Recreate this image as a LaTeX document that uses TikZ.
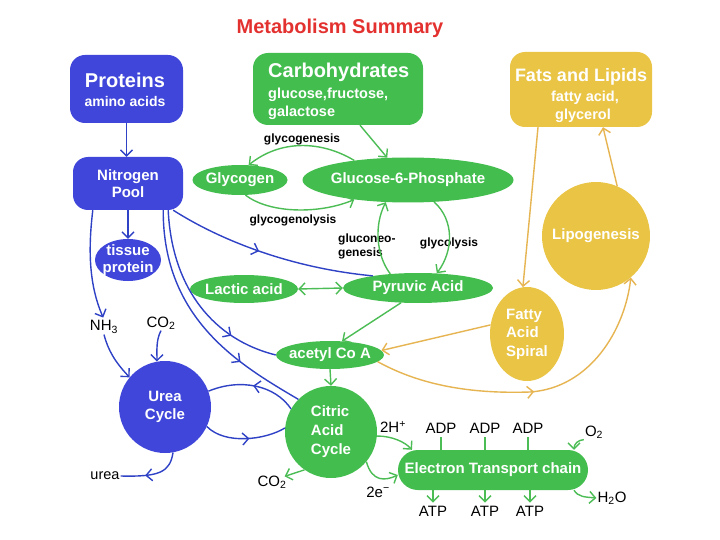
\documentclass[tikz,border=0pt]{standalone}
\usepackage{fontspec}
\setmainfont{Liberation Sans}
\usetikzlibrary{arrows.meta,shapes.geometric,decorations.markings}
\definecolor{nblue}{HTML}{3F46D9}
\definecolor{ngreen}{HTML}{43BE4E}
\definecolor{nyellow}{HTML}{E9C445}
\definecolor{lblue}{HTML}{2F42C6}
\definecolor{lgreen}{HTML}{4CBD55}
\definecolor{lyellow}{HTML}{E6B552}
\definecolor{ttlred}{HTML}{E3312F}
\newcommand\fsz[2]{\fontsize{#1}{#2}\selectfont}
\begin{document}
\begin{tikzpicture}[x=1pt,y=-1pt,
  >={Straight Barb[length=6pt,width=12pt]},
  every node/.style={inner sep=0pt},
  wt/.style={text=white,font=\bfseries\fsz{15}{18}},
  blk/.style={text=black,font=\fsz{15}{17},inner sep=1pt},
  sml/.style={text=black,font=\bfseries\fsz{12}{14},inner sep=1pt},
  ell/.style={ellipse,inner xsep=-6pt,inner ysep=0pt},
  rbox/.style={rectangle,rounded corners=15pt},
  bl/.style={draw=lblue,line width=1.4pt},
  gl/.style={draw=lgreen,line width=1.4pt},
  yl/.style={draw=lyellow,line width=1.4pt},
  midarr/.style={postaction={decorate},decoration={markings,mark=at position #1 with {\arrow{>}}}}
]
\fill[white] (0,0) rectangle (720,540);
\useasboundingbox (0,0) rectangle (720,540);

% title
\node[font=\bfseries\fsz{20}{24},text=ttlred] (title) at (340,28) {Metabolism Summary};

% header boxes
\node[rbox,fill=nblue,minimum width=113pt,minimum height=68pt] (proteins) at (126.5,89) {};
\node[wt,font=\bfseries\fsz{20}{24},anchor=base] (proteinsT) at (125,88) {Proteins};
\node[wt,font=\bfseries\fsz{14}{16},anchor=base] (proteinsS) at (125,107) {amino acids};

\node[rbox,fill=ngreen,minimum width=170pt,minimum height=72pt] (carbs) at (338,89) {};
\node[wt,font=\bfseries\fsz{20}{24},anchor=base west] (carbsT) at (268,78) {Carbohydrates};
\node[wt,font=\bfseries\fsz{14.5}{16},anchor=base west] (carbsS1) at (268,99) {glucose,fructose,};
\node[wt,font=\bfseries\fsz{14.5}{16},anchor=base west] (carbsS2) at (268,117) {galactose};

\node[rbox,fill=nyellow,minimum width=142pt,minimum height=75pt] (fats) at (581,89.5) {};
\node[wt,font=\bfseries\fsz{18}{22},anchor=base] (fatsT) at (581,82) {Fats and Lipids};
\node[wt,font=\bfseries\fsz{14.5}{16},anchor=base] (fatsS1) at (585,102) {fatty acid,};
\node[wt,font=\bfseries\fsz{14.5}{16},anchor=base] (fatsS2) at (583,120) {glycerol};

% blue nodes
\node[rbox,fill=nblue,wt,align=center,font=\bfseries\fsz{15}{17},minimum width=110pt,minimum height=53pt] (nitro) at (128,183.5) {Nitrogen\\Pool};
\node[ellipse,inner xsep=-6pt,inner ysep=-3pt,fill=nblue,wt,align=center,font=\bfseries\fsz{15}{17},minimum width=66pt,minimum height=42pt] (tissue) at (128,260) {tissue\\protein};
\node[circle,fill=nblue,wt,align=center,font=\bfseries\fsz{15}{18},minimum size=92pt] (urea) at (165,407) {Urea\\Cycle};

% green nodes
\node[ell,fill=ngreen,wt,minimum width=95pt,minimum height=30pt] (glycogen) at (240,180) {Glycogen};
\node[ell,fill=ngreen,wt,minimum width=211pt,minimum height=45pt] (g6p) at (408,180) {Glucose-6-Phosphate};
\node[ell,fill=ngreen,wt,minimum width=108pt,minimum height=28pt] (lactic) at (244,289) {Lactic acid};
\node[ell,fill=ngreen,wt,minimum width=150pt,minimum height=30pt] (pyr) at (418,288) {Pyruvic Acid};
\node[ell,fill=ngreen,wt,minimum width=108pt,minimum height=28pt] (acetyl) at (330,355) {acetyl Co A};
\node[circle,fill=ngreen,wt,align=left,font=\bfseries\fsz{15}{19},minimum size=92pt] (citric) at (331,432) {Citric\\Acid\\Cycle};
\node[rectangle,rounded corners=20pt,fill=ngreen,wt,minimum width=190pt,minimum height=40pt] (etc) at (493,470) {Electron Transport chain};

% yellow nodes
\node[ell,fill=nyellow,wt,align=left,font=\bfseries\fsz{15}{18.5},minimum width=74pt,minimum height=94pt] (spiral) at (527,334) {Fatty\\Acid\\Spiral};
\node[circle,fill=nyellow,wt,minimum size=108pt] (lipo) at (596,236) {Lipogenesis};

% labels
\node[sml] (lgenesis) at (302,139) {glycogenesis};
\node[sml] (lgenolysis) at (293,220) {glycogenolysis};
\node[sml,align=left,anchor=west] (lgluco) at (337,246) {gluconeo-\\genesis};
\node[sml] (lglycolysis) at (449,243) {glycolysis};
\node[blk] (nh3) at (104,327) {NH\textsubscript{3}};
\node[blk] (co2a) at (161,323) {CO\textsubscript{2}};
\node[blk,font=\fsz{14.5}{17}] (urealbl) at (105,476) {urea};
\node[blk] (co2b) at (272,482) {CO\textsubscript{2}};
\node[blk] (hplus) at (393,427) {2H\textsuperscript{+}};
\node[blk] (eminus) at (378,492) {2e\textsuperscript{−}};
\node[blk] (adp1) at (441,428) {ADP};
\node[blk] (adp2) at (485,428) {ADP};
\node[blk] (adp3) at (528,428) {ADP};
\node[blk] (atp1) at (433,511) {ATP};
\node[blk] (atp2) at (485,511) {ATP};
\node[blk] (atp3) at (530,511) {ATP};
\node[blk] (o2) at (594,432) {O\textsubscript{2}};
\node[blk] (h2o) at (612,498) {H\textsubscript{2}O};

% blue connectors
\draw[bl,->] (proteins.south) -- (proteins.south |- nitro.north);
\draw[bl,->] (nitro.south) -- (tissue.north);
\draw[bl,->,shorten >=2pt] ([xshift=20pt]nitro.south west) .. controls (88,250) and (89,285) .. (nh3.north);
\draw[bl,->] (nh3.south) .. controls (108,350) and (115,362) .. (urea.140);
\draw[bl,->] (co2a.south) .. controls (156,340) and (157,350) .. (urea.100);
\draw[bl,midarr=0.62] (urea.-80) .. controls (170,472) and (160,477) .. (urealbl.east);
\draw[bl,midarr=0.45] ([xshift=-10pt]nitro.south east) .. controls (220,240) and (290,268) .. (pyr.165);
\draw[bl,midarr=0.75] ([xshift=-15pt]nitro.south east) .. controls (172,290) and (215,340) .. (acetyl.west);
\draw[bl,midarr=0.72] ([xshift=-20pt]nitro.south east) .. controls (163,320) and (240,365) .. (citric.135);
\draw[bl,midarr=0.5] (citric.150) .. controls (275,385) and (240,378) .. (urea.20);
\draw[bl,midarr=0.55] (urea.-25) .. controls (225,445) and (265,440) .. (citric.175);

% green connectors
\draw[gl,->] ([xshift=22pt]carbs.south) -- (g6p.133);
\draw[gl,->] (g6p.160) .. controls (320,140) and (280,140) .. (glycogen.60);
\draw[gl,->] (glycogen.-70) .. controls (270,214) and (320,214) .. (g6p.200);
\draw[gl,->] (pyr.153) .. controls (376,255) and (374,225) .. (g6p.-135);
\draw[gl,->] (g6p.-40) .. controls (454,220) and (454,250) .. (pyr.38);
\draw[gl,<->] (lactic.east) -- (pyr.west);
\draw[gl,->] (pyr.-139) -- (acetyl.49);
\draw[gl,->] (acetyl.south) -- (citric.north);
\draw[gl,->] (citric.-125) -- ([xshift=-3pt,yshift=-2pt]co2b.north east);
\draw[gl,->] (citric.-5) .. controls (392,436) and (405,442) .. (etc.166);
\draw[gl,->] (citric.-40) .. controls (372,482) and (385,481) .. ([yshift=-5pt]etc.west);
\draw[gl,shorten <=3pt] (adp1.south) -- (adp1.south |- etc.north);
\draw[gl,shorten <=3pt] (adp2.south) -- (adp2.south |- etc.north);
\draw[gl,shorten <=3pt] (adp3.south) -- (adp3.south |- etc.north);
\draw[gl,->,shorten >=2pt] (atp1.north |- etc.south) -- (atp1.north);
\draw[gl,->,shorten >=2pt] (atp2.north |- etc.south) -- (atp2.north);
\draw[gl,->,shorten >=2pt] (atp3.north |- etc.south) -- (atp3.north);
\draw[gl,->] (o2.south west) .. controls (578,440) and (574,444) .. (etc.14);
\draw[gl,->] (etc.-14) .. controls (578,497) and (585,497) .. (h2o.west);

% yellow connectors
\draw[yl,->] ([xshift=-43pt]fats.south) -- (spiral.95);
\draw[yl,->] (lipo.67) -- ([xshift=22pt]fats.south);
\draw[yl,->] (spiral.166) -- (acetyl.5);
\draw[yl,->,midarr=0.5] (acetyl.-8) .. controls (420,385) and (470,394) .. (530,392) .. controls (590,388) and (625,330) .. (lipo.-50);

\end{tikzpicture}
\end{document}
